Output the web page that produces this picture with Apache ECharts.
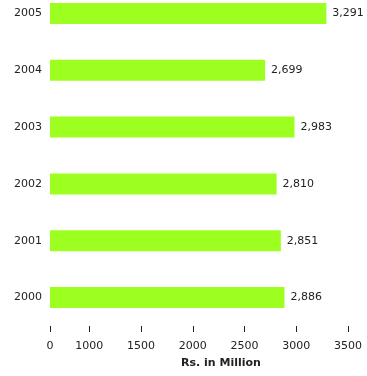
<!DOCTYPE html>
<html>
<head>
<meta charset="utf-8">
<script src="https://cdn.jsdelivr.net/npm/echarts@6/dist/echarts.min.js"></script>
<style>
html,body{margin:0;padding:0;background:#fff;}
#chart{width:367px;height:376px;}
</style>
</head>
<body>
<div id="chart"></div>
<script>
var categories = ['2000', '2001', '2002', '2003', '2004', '2005'];
var values = [2886, 2851, 2810, 2983, 2699, 3291];
var tickValues = [620, 1000, 1500, 2000, 2500, 3000, 3500];
var tickLabels = ['0', '1000', '1500', '2000', '2500', '3000', '3500'];
var axisMin = 620;
var axisMax = 3500;

var chart = echarts.init(document.getElementById('chart'));
var font = 'DejaVu Sans, Verdana, sans-serif';
chart.setOption({
  animation: false,
  grid: { left: 50, top: -15, width: 298, height: 341, outerBoundsMode: 'none', containLabel: false },
  xAxis: {
    type: 'value',
    min: axisMin,
    max: axisMax,
    name: 'Rs. in Million',
    nameLocation: 'middle',
    nameGap: 32,
    nameTextStyle: { fontFamily: font, fontSize: 11, fontWeight: 'bold', color: '#222', padding: [0, 0, 0, 44] },
    splitLine: { show: false },
    axisLine: { show: false },
    axisTick: { show: true, length: 6, customValues: tickValues, lineStyle: { color: '#222', width: 1 } },
    axisLabel: {
      margin: 15,
      customValues: tickValues,
      fontFamily: font, fontSize: 11, color: '#222',
      formatter: function (v) {
        var i = tickValues.indexOf(v);
        return i >= 0 ? tickLabels[i] : '';
      }
    }
  },
  yAxis: {
    type: 'category',
    data: categories,
    axisLine: { show: false },
    axisTick: { show: false },
    axisLabel: { margin: 8, fontFamily: font, fontSize: 11, color: '#222' }
  },
  series: [{
    type: 'bar',
    data: values,
    barWidth: 21,
    itemStyle: { color: '#9dff1f' },
    label: {
      show: true,
      position: 'right',
      distance: 6,
      fontFamily: font, fontSize: 11, color: '#222',
      formatter: function (p) { return p.value.toLocaleString('en-US'); }
    }
  }]
});
</script>
</body>
</html>
